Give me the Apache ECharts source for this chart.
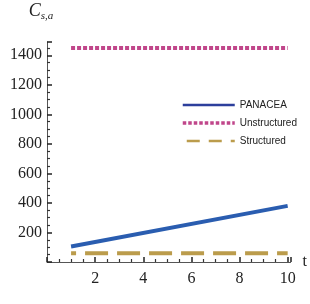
<!DOCTYPE html>
<html>
<head>
<meta charset="utf-8">
<script src="https://cdn.jsdelivr.net/npm/echarts@6/dist/echarts.min.js"></script>
<style>
  html, body { margin: 0; padding: 0; background: #fff; }
  #chart { width: 310px; height: 304px; }
</style>
</head>
<body>
<div id="chart"></div>
<script>
// x range of each line (straight lines, endpoints)
var xs = [1, 10];
var panacea = [105, 380];
var unstructured = [1450, 1450];
var structured = [60, 60];
var seriesNames = ['PANACEA', 'Unstructured', 'Structured'];

function pairs(vals) {
	var out = [];
	for (var i = 0; i < xs.length; i++) {
		out.push([xs[i], vals[i]]);
	}
	return out;
}

var serif = '"Liberation Serif", "DejaVu Serif", serif';
var axisColor = '#555';

var chart = echarts.init(document.getElementById('chart'));
chart.setOption({
	animation: false,
	grid: { left: 47, right: 17, top: 42, bottom: 42 },
	legend: {
		show: true,
		orient: 'vertical',
		left: 176,
		top: 95,
		itemWidth: 52,
		itemHeight: 10,
		itemGap: 8,
		itemStyle: { opacity: 0 },
		textStyle: { fontFamily: '"Liberation Sans", Arial, sans-serif', fontSize: 10, color: '#222' },
		data: [
			{ name: seriesNames[0], lineStyle: { width: 2.5, color: '#2c3f9c' } },
			{ name: seriesNames[1], lineStyle: { width: 3.5, type: [3.5, 2] } },
			{ name: seriesNames[2], lineStyle: { width: 2.5, type: [13, 9] } }
		]
	},
	xAxis: {
		type: 'value',
		min: 0,
		max: 10.12,
		interval: 2,
		name: 't',
		nameLocation: 'end',
		nameGap: 12,
		nameTextStyle: { fontFamily: serif, fontSize: 16, color: '#222', verticalAlign: 'middle' },
		axisLine: { show: true, onZero: false, lineStyle: { color: axisColor, width: 1 } },
		axisTick: { show: true, inside: true, length: 5, lineStyle: { color: '#222', width: 1.5 } },
		minorTick: { show: true, splitNumber: 4, length: 3, lineStyle: { color: '#333', width: 1.2 } },
		splitLine: { show: false },
		axisLabel: {
			fontFamily: serif, fontSize: 16, color: '#222', margin: 9,
			formatter: function(v) { return v === 0 ? '' : v; }
		}
	},
	yAxis: {
		type: 'value',
		min: 0,
		max: 1490,
		interval: 200,
		name: '{c|C}{s|s,a}',
		nameLocation: 'end',
		nameGap: 20,
		nameTextStyle: {
			padding: [0, 12, 0, 0],
			rich: {
				c: { fontFamily: serif, fontStyle: 'italic', fontSize: 18, color: '#222' },
				s: { fontFamily: serif, fontStyle: 'italic', fontSize: 11, color: '#222', padding: [10, 0, 0, 0] }
			}
		},
		axisLine: { show: true, onZero: false, lineStyle: { color: axisColor, width: 1 } },
		axisTick: { show: true, inside: true, length: 5, lineStyle: { color: '#222', width: 1.5 } },
		minorTick: { show: true, splitNumber: 4, length: 3, lineStyle: { color: '#333', width: 1.2 } },
		splitLine: { show: false },
		axisLabel: {
			fontFamily: serif, fontSize: 16, color: '#222', margin: 5,
			formatter: function(v) { return v === 0 ? '' : v; }
		}
	},
	series: [
		{
			name: seriesNames[0], type: 'line', data: pairs(panacea),
			symbol: 'none', color: '#2a5db0',
			lineStyle: { width: 4, color: '#2a5db0' }
		},
		{
			name: seriesNames[1], type: 'line', data: pairs(unstructured),
			symbol: 'none', color: '#c0468a',
			lineStyle: { width: 4, color: '#c0468a', type: [4, 2], cap: 'butt' }
		},
		{
			name: seriesNames[2], type: 'line', data: pairs(structured),
			symbol: 'none', color: '#bb9c4c',
			lineStyle: { width: 4, color: '#bb9c4c', type: [23, 9], dashOffset: 18, cap: 'butt' }
		}
	]
});
</script>
</body>
</html>
